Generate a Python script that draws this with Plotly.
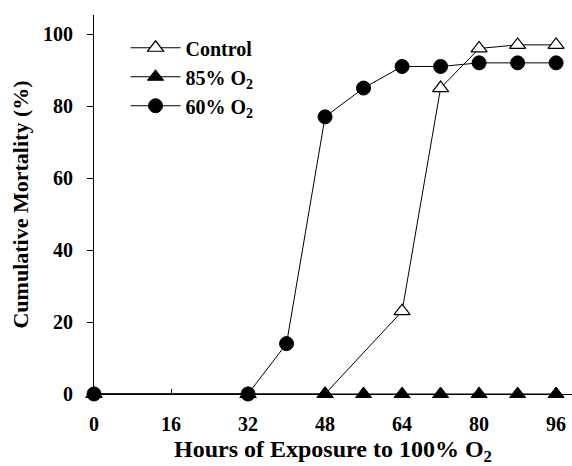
import plotly.graph_objects as go

hours_control = [0, 32, 48, 64, 72, 80, 88, 96]
mort_control = [0, 0, 0, 23, 85, 96, 97, 97]

hours_85 = [0, 32, 48, 56, 64, 72, 80, 88, 96]
mort_85 = [0, 0, 0, 0, 0, 0, 0, 0, 0]

hours_60 = [0, 32, 40, 48, 56, 64, 72, 80, 88, 96]
mort_60 = [0, 0, 14, 77, 85, 91, 91, 92, 92, 92]

x_ticks = [0, 16, 32, 48, 64, 80, 96]
y_ticks = [0, 20, 40, 60, 80, 100]

FONT = "Liberation Serif"

fig = go.Figure()
fig.add_trace(go.Scatter(
    x=hours_control, y=mort_control, name="<b>Control</b>", mode="lines+markers",
    line=dict(color="black", width=1),
    marker=dict(symbol="triangle-up", size=14, color="white", line=dict(color="black", width=1.2)),
    cliponaxis=False,
))
fig.add_trace(go.Scatter(
    x=hours_85, y=mort_85, name="<b>85% O<sub>2</sub></b>", mode="lines+markers",
    line=dict(color="black", width=1),
    marker=dict(symbol="triangle-up", size=14, color="black", line=dict(color="black", width=1)),
    cliponaxis=False,
))
fig.add_trace(go.Scatter(
    x=hours_60, y=mort_60, name="<b>60% O<sub>2</sub></b>", mode="lines+markers",
    line=dict(color="black", width=1),
    marker=dict(symbol="circle", size=14, color="black", line=dict(color="black", width=1)),
    cliponaxis=False,
))

fig.update_layout(
    width=572, height=466,
    margin=dict(l=94, r=0, t=15, b=72),
    paper_bgcolor="white", plot_bgcolor="white",
    font=dict(family=FONT, size=20, color="black"),
    showlegend=True,
    legend=dict(x=0.066, y=0.965, xanchor="left", yanchor="top",
                bgcolor="rgba(0,0,0,0)", font=dict(family=FONT, size=20, color="black"),
                tracegroupgap=0, itemwidth=50),
    xaxis=dict(
        range=[0, 99.3], tickvals=x_ticks, ticktext=[f"<b>{v}</b>" for v in x_ticks],
        showline=True, linecolor="black", linewidth=1, showgrid=False, zeroline=False,
        ticks="inside", ticklen=5, tickcolor="black", ticklabelstandoff=12,
        title=dict(text="<b>Hours of Exposure to 100% O<sub>2</sub></b>", font=dict(family=FONT, size=24), standoff=8),
        tickfont=dict(family=FONT, size=20),
    ),
    yaxis=dict(
        range=[0, 105.3], tickvals=y_ticks, ticktext=[f"<b>{v}</b>" for v in y_ticks],
        showline=True, linecolor="black", linewidth=1, showgrid=False, zeroline=False,
        ticks="outside", ticklen=6, tickcolor="black", ticklabelstandoff=10,
        title=dict(text="<b>Cumulative Mortality (%)</b>", font=dict(family=FONT, size=22), standoff=8),
        tickfont=dict(family=FONT, size=20),
    ),
)

fig.write_html("out.html")
